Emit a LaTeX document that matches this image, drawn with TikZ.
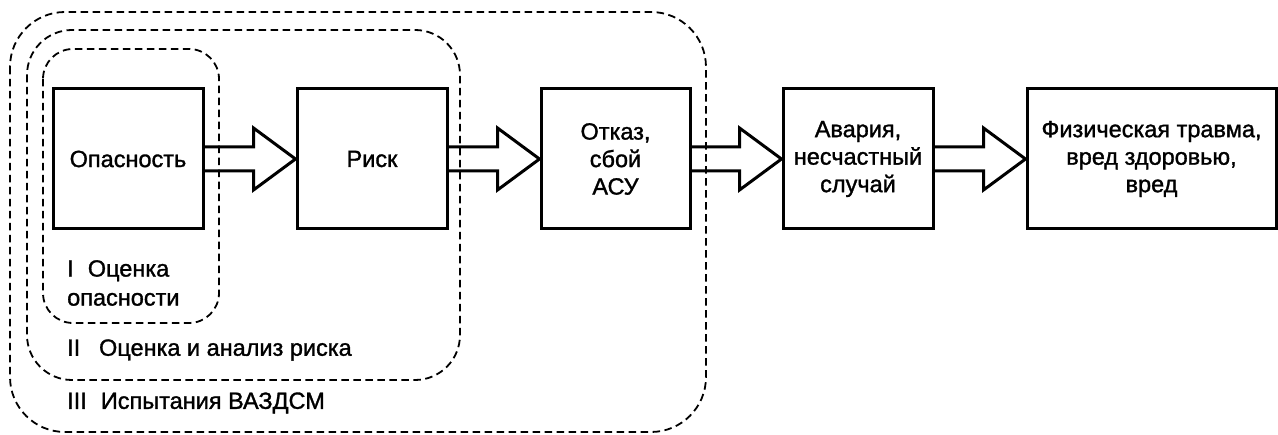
\documentclass[tikz,border=0pt]{standalone}
\usepackage{fontspec}
\setmainfont{Liberation Sans}[FakeBold=1.3]
\usetikzlibrary{calc}
\begin{document}
\begin{tikzpicture}[x=1pt,y=-1pt,
  stagebox/.style={draw,line width=3pt,inner sep=0pt,minimum height=140pt,align=center,font=\fontsize{23.5}{27.5}\selectfont},
  zone/.style={draw,line width=1.8pt,dash pattern=on 7.5pt off 4.5pt},
  lbl/.style={anchor=west,inner sep=0pt,align=left,font=\fontsize{23.5}{29}\selectfont},
  blockarrow/.style={draw,line width=3pt,line join=miter}]
\useasboundingbox (0,0) rectangle (1278,435);
% dashed zones
\draw[zone,rounded corners=55pt] (10,12) rectangle (706,432);
\draw[zone,rounded corners=45pt] (27,30) rectangle (460,380);
\draw[zone,rounded corners=30pt] (43,49) rectangle (219,323);
% boxes
\node[stagebox,minimum width=150pt] (a) at (128,159) {Опасность};
\node[stagebox,minimum width=150pt] (b) at (372,159) {Риск};
\node[stagebox,minimum width=149pt] (c) at (615.5,159) {Отказ,\\сбой\\АСУ};
\node[stagebox,minimum width=150pt] (d) at (858,159) {Авария,\\несчастный\\случай};
\node[stagebox,minimum width=249pt] (e) at (1151.5,159) {Физическая травма,\\вред здоровью,\\вред};
% block arrows
\foreach \s/\t in {a/b,b/c,c/d,d/e}{
  \draw[blockarrow] ($(\s.east)+(0,-12)$) -- ($(\t.west)+(-42,-12)$) -- ($(\t.west)+(-42,-31)$) -- (\t.west)
    -- ($(\t.west)+(-42,31)$) -- ($(\t.west)+(-42,12)$) -- ($(\s.east)+(0,12)$);
}
% labels
\node[lbl] (l1) at (67,283) {I\hspace{0.6em}Оценка\\опасности};
\node[lbl] (l2) at (67,350) {II\hspace{0.8em}Оценка и анализ риска};
\node[lbl] (l3) at (67,403) {III\hspace{0.6em}Испытания ВАЗДСМ};
\end{tikzpicture}
\end{document}
